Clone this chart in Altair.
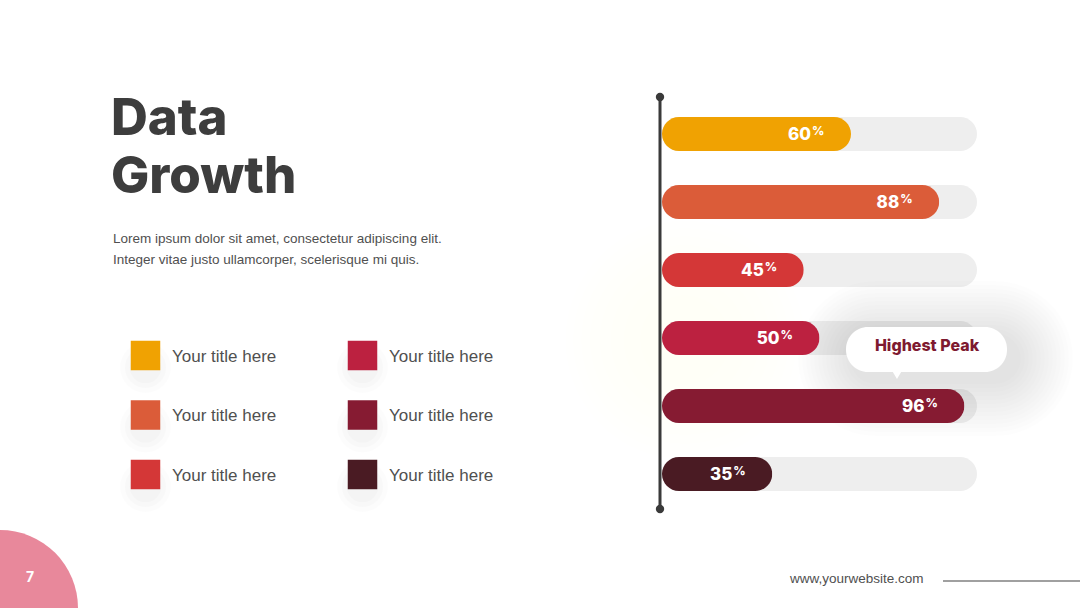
import altair as alt
import pandas as pd

# ---- data ----
categories = ["A", "B", "C", "D", "E", "F"]
values = [60, 88, 45, 50, 96, 35]
bar_colors = ["#F0A202", "#DB5C39", "#D43737", "#BC2140", "#861B32", "#4A1B23"]
legend_labels = ["Your title here"] * 6
title_lines = ["Data", "Growth"]
body_lines = ["Lorem ipsum dolor sit amet, consectetur adipiscing elit.",
              "Integer vitae justo ullamcorper, scelerisque mi quis."]
callout_text = "Highest Peak"
page_number = "7"
website = "www,yourwebsite.com"

bars = pd.DataFrame({"cat": categories, "value": values,
                     "label": [str(v) for v in values]})
legend = pd.DataFrame({"cat": categories, "label": legend_labels,
                       "col": [i // 3 for i in range(6)],
                       "row": [i % 3 for i in range(6)]})

xs = alt.Scale(domain=[0, 100], range=[662, 977])
ys = alt.Scale(type="point", domain=categories, range=[134, 474], padding=0)
cs = alt.Scale(domain=categories, range=bar_colors)

one = alt.Data(values=[{}])

layers = []

# very faint warm glow behind the bars
for k in range(8):
    s = 8000 + k * 7000
    layers.append(alt.Chart(one).mark_circle(color="#F5C56A", opacity=0.006, size=s).encode(
        x=alt.value(685), y=alt.value(340)))

# tracks
base = alt.Chart(bars)
track = base.transform_calculate(full="100").mark_bar(
    color="#EEEEEE", cornerRadius=17, size=34).encode(
    x=alt.X("full:Q", scale=xs, axis=None),
    y=alt.Y("cat:N", scale=ys, axis=None))
layers.append(track)

# soft diffuse shadow of the callout
for i in range(14):
    g = (14 - i) * 4
    layers.append(alt.Chart(one).mark_rect(color="#000000", opacity=0.0065,
                                           cornerRadius=22 + g).encode(
        x=alt.value(846 - g + 8), x2=alt.value(1007 + g + 10),
        y=alt.value(327 - g + 10), y2=alt.value(372 + g + 8)))

bar = base.mark_bar(cornerRadius=17, size=34).encode(
    x=alt.X("value:Q", scale=xs, axis=None),
    y=alt.Y("cat:N", scale=ys, axis=None),
    color=alt.Color("cat:N", scale=cs, legend=None))
layers.append(bar)

num = base.mark_text(align="right", baseline="middle", dx=-40, dy=1,
                     font="Inter", fontWeight=800, fontSize=17,
                     color="white").encode(
    x=alt.X("value:Q", scale=xs, axis=None),
    y=alt.Y("cat:N", scale=ys, axis=None),
    text="label:N")
layers.append(num)
pct = base.mark_text(align="left", baseline="middle", dx=-39, dy=-3,
                     font="Inter", fontWeight=800, fontSize=12,
                     color="white", text="%").encode(
    x=alt.X("value:Q", scale=xs, axis=None),
    y=alt.Y("cat:N", scale=ys, axis=None))
layers.append(pct)

# vertical axis line with end dots
layers.append(alt.Chart(one).mark_rule(color="#3A3A3A", strokeWidth=3).encode(
    x=alt.value(660), y=alt.value(97), y2=alt.value(509)))
layers.append(alt.Chart(pd.DataFrame({"y": [97, 509]})).mark_circle(
    color="#3A3A3A", opacity=1, size=70).encode(
    x=alt.value(660), y=alt.Y("y:Q", scale=alt.Scale(domain=[0, 608], range=[0, 608]), axis=None)))

# callout
layers.append(alt.Chart(one).mark_rect(color="white", cornerRadius=22).encode(
    x=alt.value(846), x2=alt.value(1007), y=alt.value(327), y2=alt.value(372)))
layers.append(alt.Chart(one).mark_point(shape="triangle-down", filled=True,
                                        color="white", opacity=1, size=90).encode(
    x=alt.value(897), y=alt.value(375)))
layers.append(alt.Chart(one).mark_text(text=callout_text, font="Inter",
                                       fontWeight=800, fontSize=16,
                                       color="#7E1A30", align="center",
                                       baseline="middle").encode(
    x=alt.value(927), y=alt.value(346)))

# title
for i, t in enumerate(title_lines):
    layers.append(alt.Chart(one).mark_text(text=t, font="Inter", fontWeight=800,
                                           fontSize=51, color="#3D3D3D",
                                           align="left", baseline="alphabetic").encode(
        x=alt.value(111), y=alt.value(135 + 58 * i)))
for i, t in enumerate(body_lines):
    layers.append(alt.Chart(one).mark_text(text=t, font="Liberation Sans",
                                           fontSize=13.5, color="#505050",
                                           align="left", baseline="alphabetic").encode(
        x=alt.value(113), y=alt.value(243 + 21 * i)))

# legend
lx = alt.Scale(domain=[0, 1], range=[145.5, 362.5])
ly = alt.Scale(domain=[0, 2], range=[355.5, 474.5])
lbase = alt.Chart(legend)
for s, op in [(2600, 0.012), (1700, 0.014), (1000, 0.016)]:
    layers.append(lbase.mark_circle(color="#000000", opacity=op, size=s, yOffset=12).encode(
        x=alt.X("col:Q", scale=lx, axis=None),
        y=alt.Y("row:Q", scale=ly, axis=None)))
layers.append(lbase.mark_square(size=870, opacity=1).encode(
    x=alt.X("col:Q", scale=lx, axis=None),
    y=alt.Y("row:Q", scale=ly, axis=None),
    color=alt.Color("cat:N", scale=cs, legend=None)))
layers.append(lbase.mark_text(align="left", baseline="middle", dx=26.5, dy=1,
                              font="Liberation Sans", fontSize=17,
                              color="#505050").encode(
    x=alt.X("col:Q", scale=lx, axis=None),
    y=alt.Y("row:Q", scale=ly, axis=None),
    text="label:N"))

# page number
layers.append(alt.Chart(one).mark_circle(color="#E8889B", opacity=1, size=24336).encode(
    x=alt.value(0), y=alt.value(608)))
layers.append(alt.Chart(one).mark_text(text=page_number, font="Inter",
                                       fontWeight="bold", fontSize=14, color="white",
                                       align="center", baseline="middle").encode(
    x=alt.value(30), y=alt.value(578)))

# footer
layers.append(alt.Chart(one).mark_text(text=website, font="Liberation Sans",
                                       fontSize=13.5, color="#505050",
                                       align="left", baseline="middle").encode(
    x=alt.value(790), y=alt.value(579)))
layers.append(alt.Chart(one).mark_rule(color="#A0A0A0", strokeWidth=2).encode(
    x=alt.value(943), x2=alt.value(1080), y=alt.value(581)))

chart = alt.layer(*layers).resolve_scale(
    x="independent", y="independent", color="independent"
).properties(width=1080, height=608, padding=0, autosize="none",
             background="white").configure_view(stroke=None)

chart.save("out.html", embed_options={"renderer": "svg", "actions": False})
